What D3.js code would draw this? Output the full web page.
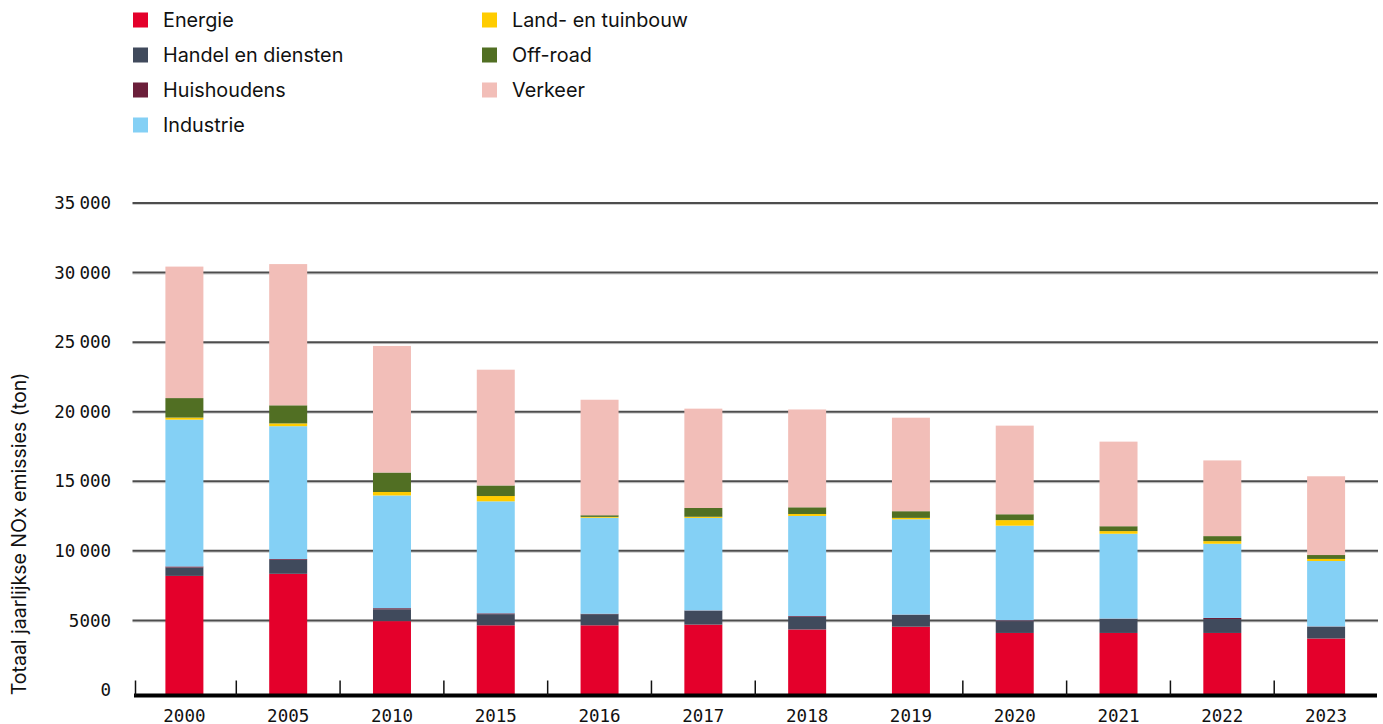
<!DOCTYPE html>
<html>
<head>
<meta charset="utf-8">
<script src="https://cdn.jsdelivr.net/npm/d3@7"></script>
<style>
  html, body { margin: 0; padding: 0; background: #fff; }
  svg { display: block; }
</style>
</head>
<body>
<svg id="chart" width="1383" height="724"></svg>
<script>
// Jaarlijkse NOx-emissies per sector (ton)
const years = ["2000","2005","2010","2015","2016","2017","2018","2019","2020","2021","2022","2023"];
const energie     = [8200, 8350, 4950, 4650, 4650, 4700, 4350, 4550, 4100, 4100, 4100, 3700];
const handel      = [600, 1000, 850, 800, 800, 1000, 900, 850, 850, 1000, 1000, 850];
const huishoudens = [80, 60, 80, 60, 30, 20, 60, 20, 60, 30, 80, 20];
const industrie   = [10550, 9550, 8100, 8050, 6900, 6650, 7200, 6850, 6800, 6100, 5330, 4700];
const land        = [150, 200, 250, 380, 60, 80, 140, 100, 400, 190, 190, 150];
const offroad     = [1400, 1300, 1400, 760, 120, 630, 480, 480, 420, 350, 360, 280];
const verkeer     = [9450, 10150, 9100, 8320, 8300, 7140, 7030, 6720, 6370, 6080, 5440, 5660];

const seriesNames = ["Energie","Handel en diensten","Huishoudens","Industrie","Land- en tuinbouw","Off-road","Verkeer"];
const seriesValues = [energie, handel, huishoudens, industrie, land, offroad, verkeer];
const seriesColors = ["#e4002b","#404a5c","#6b1f3a","#84d0f5","#ffcc00","#516f23","#f2beb8"];
const yTicks = [0, 5000, 10000, 15000, 20000, 25000, 30000, 35000];
const yTitle = "Totaal jaarlijkse NOx emissies (ton)";

const svg = d3.select("#chart");
const sansFont = "Inter, 'Noto Sans', sans-serif";
const monoFont = "'DejaVu Sans Mono', monospace";

const plotLeft = 132.5, plotRight = 1378, plotTop = 203, plotBottom = 690;
const axisY = 695.5;

const x = d3.scaleBand().domain(years).range([plotLeft, plotRight])
  .paddingInner(0.634).paddingOuter(0.317);
const y = d3.scaleLinear().domain([0, 35000]).range([plotBottom, plotTop]);

// Stacked table built from the series arrays
const table = years.map((yr, i) => {
  const row = { year: yr };
  seriesNames.forEach((n, k) => row[n] = seriesValues[k][i]);
  return row;
});
const stacked = d3.stack().keys(seriesNames)(table);

// Gridlines
const grid = svg.append("g");
yTicks.filter(v => v > 0).forEach(v => {
  grid.append("line")
    .attr("x1", plotLeft).attr("x2", plotRight)
    .attr("y1", y(v) + 1.5).attr("y2", y(v) + 1.5)
    .attr("stroke", "#cfcfcf").attr("stroke-width", 1);
  grid.append("line")
    .attr("x1", plotLeft).attr("x2", plotRight)
    .attr("y1", y(v)).attr("y2", y(v))
    .attr("stroke", "#4d4d4d").attr("stroke-width", 2);
});

// Bars
const bars = svg.append("g");
stacked.forEach((layer, k) => {
  bars.append("g").attr("fill", seriesColors[k])
    .selectAll("rect").data(layer).join("rect")
    .attr("x", d => x(d.data.year))
    .attr("width", x.bandwidth())
    .attr("y", d => y(d[1]))
    .attr("height", d => Math.max(0, (k === 0 ? axisY : y(d[0])) - y(d[1])));
});

// Y tick labels
const yLab = svg.append("g")
  .attr("font-family", monoFont).attr("font-size", 17.5).attr("fill", "#111")
  .attr("text-anchor", "end");
yTicks.forEach(v => {
  const t = yLab.append("text").attr("x", 111).attr("y", y(v)).attr("dy", "0.35em");
  if (v >= 10000) {
    t.append("tspan").text(String(Math.floor(v / 1000)));
    t.append("tspan").attr("dx", 4).text(String(v % 1000).padStart(3, "0"));
  } else {
    t.text(String(v));
  }
});

// X axis baseline, ticks and labels
const xa = svg.append("g");
xa.append("line")
  .attr("x1", plotLeft + 1.5).attr("x2", plotRight - 1)
  .attr("y1", axisY).attr("y2", axisY)
  .attr("stroke", "#000").attr("stroke-width", 4);
years.forEach((yr, i) => {
  if (yr === "2019") return;
  const bx = i === 0 ? plotLeft + 3 : x(yr) - x.step() * x.paddingInner() / 2;
  xa.append("line")
    .attr("x1", bx).attr("x2", bx)
    .attr("y1", axisY).attr("y2", axisY - 15)
    .attr("stroke", "#111").attr("stroke-width", 1.5);
});
xa.selectAll("text.xl").data(years).join("text")
  .attr("class", "xl")
  .attr("x", d => x(d) + x.bandwidth() / 2)
  .attr("y", 721.5)
  .attr("text-anchor", "middle")
  .attr("font-family", monoFont).attr("font-size", 17.5).attr("fill", "#111")
  .text(d => d);

// Y axis title
svg.append("text")
  .attr("transform", `translate(26, 534) rotate(-90)`)
  .attr("text-anchor", "middle")
  .attr("font-family", sansFont).attr("font-size", 19.5).attr("fill", "#111")
  .text(yTitle);

// Legend
const legendCols = [133, 482];
const legendRows = [20, 55, 90, 125];
const legend = svg.append("g");
seriesNames.forEach((n, k) => {
  const col = k < 4 ? 0 : 1;
  const row = k < 4 ? k : k - 4;
  const lx = legendCols[col], ly = legendRows[row];
  legend.append("rect")
    .attr("x", lx).attr("y", ly - 7.5).attr("width", 15).attr("height", 15)
    .attr("fill", seriesColors[k]);
  legend.append("text")
    .attr("x", lx + 30).attr("y", ly).attr("dy", "0.36em")
    .attr("font-family", sansFont).attr("font-size", 19.8).attr("fill", "#111")
    .text(n);
});
</script>
</body>
</html>
